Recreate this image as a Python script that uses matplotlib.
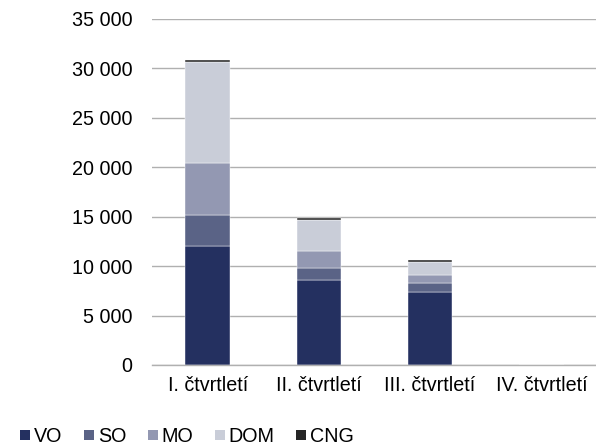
import matplotlib
matplotlib.use("Agg")
import matplotlib.pyplot as plt
from matplotlib.lines import Line2D
import numpy as np

categories = ["I. čtvrtletí", "II. čtvrtletí", "III. čtvrtletí", "IV. čtvrtletí"]
series_names = ["VO", "SO", "MO", "DOM", "CNG"]
VO = [12080, 8570, 7420, 0]
SO = [3140, 1280, 880, 0]
MO = [5230, 1690, 810, 0]
DOM = [10150, 3140, 1290, 0]
CNG = [240, 230, 200, 0]
yticks = [0, 5000, 10000, 15000, 20000, 25000, 30000, 35000]
ytick_labels = ["0", "5 000", "10 000", "15 000", "20 000", "25 000", "30 000", "35 000"]

colors = ["#243060", "#5a6386", "#9398b2", "#c9cdd8", "#262626"]
data = [VO, SO, MO, DOM, CNG]

FS = 14.2
plt.rcParams['font.family'] = ['Liberation Sans', 'DejaVu Sans']
fig = plt.figure(figsize=(5.96, 4.45), dpi=100)
ax = fig.add_axes([152/596, (445-365)/445, (597-152)/596, (365-19)/445])

x = np.arange(len(categories))
bottom = np.zeros(len(categories))
for name, vals, c in zip(series_names, data, colors):
    v = np.array(vals, dtype=float)
    ax.bar(x, v, 0.4, bottom=bottom, color=c, label=name, edgecolor="white", linewidth=0.3)
    bottom += v

ax.set_xlim(-0.5, len(categories) - 0.5)
ax.set_ylim(0, 35000)
ax.set_yticks(yticks)
ax.set_yticklabels(ytick_labels, fontsize=FS)
ax.set_xticks(x)
ax.set_xticklabels(categories, fontsize=FS)
ax.yaxis.grid(True, color="#b0b0b0", linewidth=1.0)
ax.set_axisbelow(True)
for s in ["top", "right", "left"]:
    ax.spines[s].set_visible(False)
ax.spines["bottom"].set_color("#b0b0b0")
ax.spines["bottom"].set_linewidth(1.0)
ax.tick_params(axis="both", length=0, colors="#000000")
ax.tick_params(axis="y", pad=14)
ax.tick_params(axis="x", pad=8)

handles = [Line2D([], [], linestyle="", marker="s", markersize=6.6,
                  markerfacecolor=c, markeredgecolor=c, markeredgewidth=0) for c in colors]
fig.legend(handles, series_names, loc="center left", bbox_to_anchor=(20/596, 9/445),
           ncol=5, frameon=False, fontsize=FS, handlelength=0.5, handleheight=0.7,
           handletextpad=0.2, columnspacing=1.1, borderaxespad=0, borderpad=0)

fig.savefig("out.png", dpi=100)
